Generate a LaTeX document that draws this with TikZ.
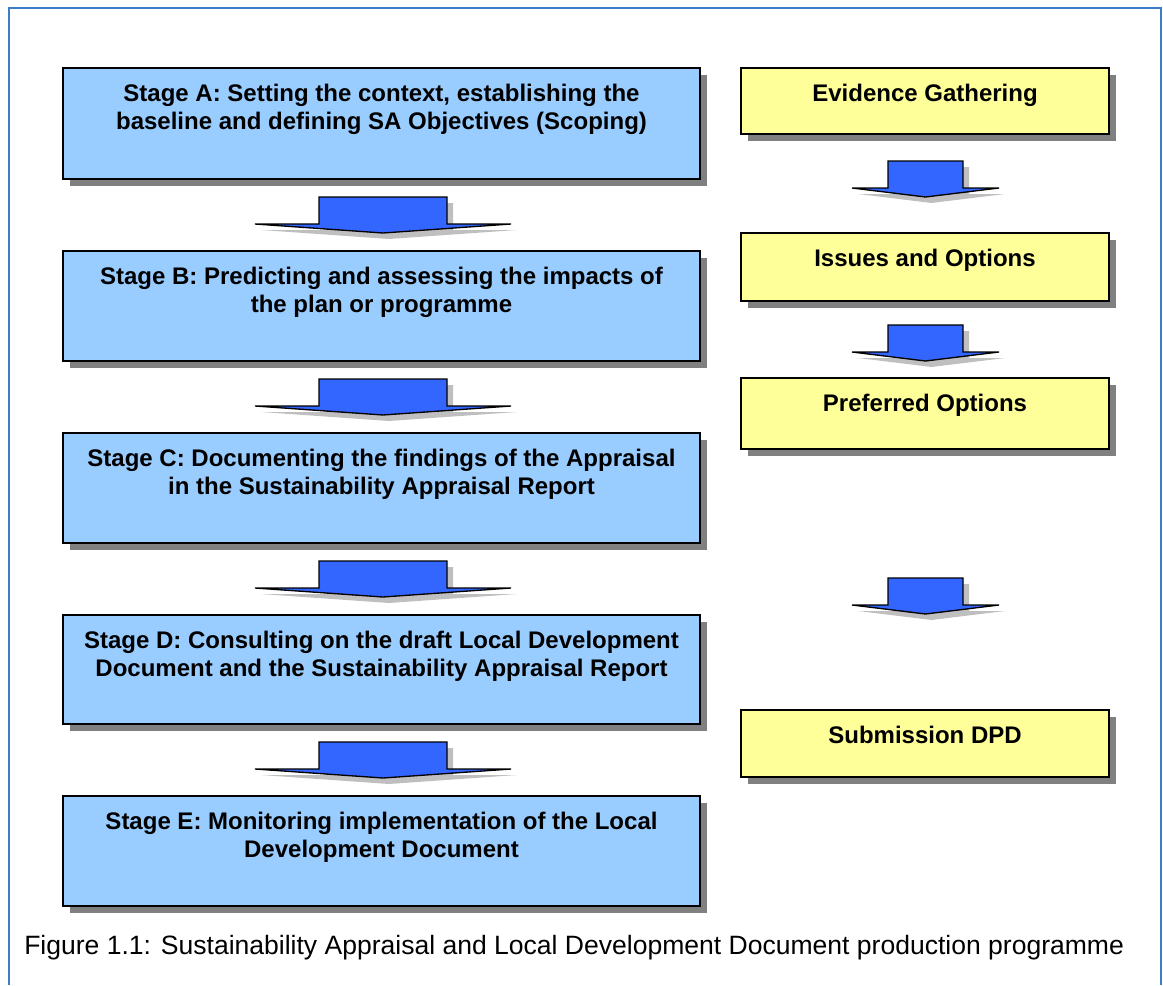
\documentclass[tikz,border=0pt]{standalone}
\usepackage{fontspec}
\setmainfont{Liberation Sans}
\usetikzlibrary{shadows,calc}
\definecolor{frameblue}{HTML}{3D7CC9}
\definecolor{stageblue}{HTML}{99CCFF}
\definecolor{docyellow}{HTML}{FFFF99}
\definecolor{arrowblue}{HTML}{3366FF}
\definecolor{shadowgray}{HTML}{808080}
\tikzset{
  boxshadow/.style={general shadow={fill=shadowgray, shadow xshift=5.2pt, shadow yshift=-5.2pt}},
  stagebox/.style={draw=black, line width=1.1pt, fill=stageblue, boxshadow, minimum width=477.75pt, inner sep=0pt},
  docbox/.style={draw=black, line width=1.1pt, fill=docyellow, boxshadow, minimum width=276pt, inner sep=0pt},
  boxtext/.style={anchor=north, inner sep=0pt, align=center, font=\fontsize{18}{21}\selectfont\bfseries},
  captiontext/.style={anchor=base west, inner sep=0pt, font=\fontsize{19.9}{23}\selectfont},
  pics/blockarrow/.style n args={2}{code={
    \fill[shadowgray, opacity=.5, shift={(6,6)}]
      (-#1,-18) -- (#1,-18) -- (#1,9) -- (#2,9) -- (0,18) -- (-#2,9) -- (-#1,9) -- cycle;
    \filldraw[fill=arrowblue, draw=black, line width=1pt, line join=miter]
      (-#1,-18) -- (#1,-18) -- (#1,9) -- (#2,9) -- (0,18) -- (-#2,9) -- (-#1,9) -- cycle;
  }}
}
\begin{document}
\begin{tikzpicture}[x=0.75pt, y=-0.75pt]
\useasboundingbox (0,0) rectangle (1163,985);
% frame
\draw[frameblue, line width=1.5pt] (9,985) -- (9,8) -- (1161,8) -- (1161,985);

% stage boxes
\node[stagebox, minimum height=83.25pt] (A) at (381.5,123.5) {};
\node[stagebox, minimum height=82.5pt] (B) at (381.5,306) {};
\node[stagebox, minimum height=82.5pt] (C) at (381.5,488) {};
\node[stagebox, minimum height=81.75pt] (D) at (381.5,669.5) {};
\node[stagebox, minimum height=82.5pt] (E) at (381.5,851) {};

\node[boxtext] (tA) at ($(A.north)+(0,17)$) {Stage A: Setting the context, establishing the\\baseline and defining SA Objectives (Scoping)};
\node[boxtext] (tB) at ($(B.north)+(0,17)$) {Stage B: Predicting and assessing the impacts of\\the plan or programme};
\node[boxtext] (tC) at ($(C.north)+(0,17)$) {Stage C: Documenting the findings of the Appraisal\\in the Sustainability Appraisal Report};
\node[boxtext] (tD) at ($(D.north)+(0,17)$) {Stage D: Consulting on the draft Local Development\\Document and the Sustainability Appraisal Report};
\node[boxtext] (tE) at ($(E.north)+(0,17)$) {Stage E: Monitoring implementation of the Local\\Development Document};

% document boxes
\node[docbox, minimum height=49.5pt] (ev) at (925,101) {};
\node[docbox, minimum height=51pt] (is) at (925,267) {};
\node[docbox, minimum height=53.25pt] (pr) at (925,413.5) {};
\node[docbox, minimum height=50.25pt] (su) at (925,743.5) {};

\node[boxtext] (tev) at ($(ev.north)+(0,17)$) {Evidence Gathering};
\node[boxtext] (tis) at ($(is.north)+(0,17)$) {Issues and Options};
\node[boxtext] (tpr) at ($(pr.north)+(0,17)$) {Preferred Options};
\node[boxtext] (tsu) at ($(su.north)+(0,17)$) {Submission DPD};

% block arrows between stages
\coordinate (aAB) at ($(A.south)!0.5!(B.north)+(1.5,0)$);
\coordinate (aBC) at ($(B.south)!0.5!(C.north)+(1.5,0)$);
\coordinate (aCD) at ($(C.south)!0.5!(D.north)+(1.5,0)$);
\coordinate (aDE) at ($(D.south)!0.5!(E.north)+(1.5,0)$);
\pic at (aAB) {blockarrow={64}{128}};
\pic at (aBC) {blockarrow={64}{128}};
\pic at (aCD) {blockarrow={64}{128}};
\pic at (aDE) {blockarrow={64}{128}};

% block arrows on the right
\coordinate (a1) at (925.5,179);
\coordinate (a2) at (925.5,343);
\coordinate (a3) at (925.5,596);
\pic at (a1) {blockarrow={37.5}{73.5}};
\pic at (a2) {blockarrow={37.5}{73.5}};
\pic at (a3) {blockarrow={37.5}{73.5}};

% caption
\node[captiontext] (cap) at (24,954) {Figure 1.1: Sustainability Appraisal and Local Development Document production programme};
\end{tikzpicture}
\end{document}
